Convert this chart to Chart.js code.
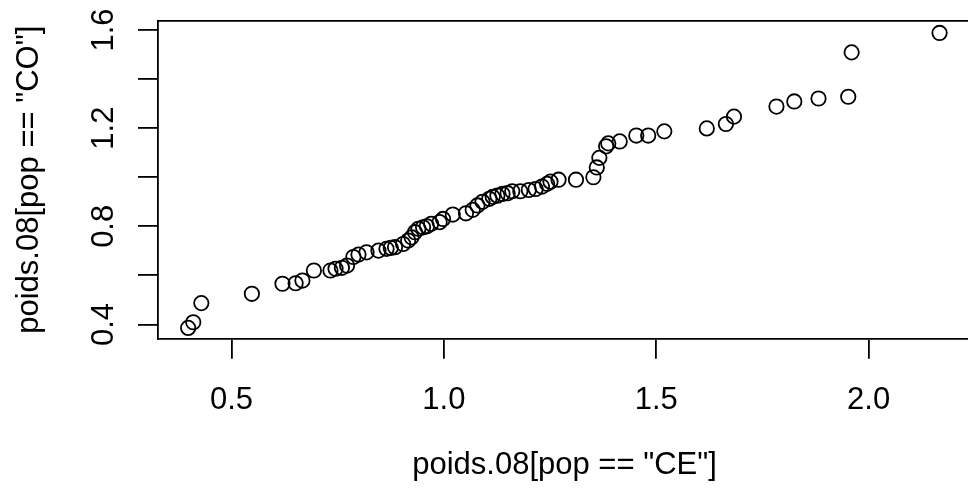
<!DOCTYPE html>
<html>
<head>
<meta charset="utf-8">
<script src="https://cdn.jsdelivr.net/npm/chart.js@4/dist/chart.umd.min.js"></script>
<style>
  html, body { margin: 0; padding: 0; background: #fff; overflow: hidden; }
  #wrap { width: 980px; height: 493px; }
</style>
</head>
<body>
<div id="wrap"><canvas id="c" width="980" height="493"></canvas></div>
<script>
// Sorted sample values (Q-Q style pairing)
const poidsCE = [0.398,0.41,0.429,0.548,0.62,0.651,0.667,0.694,0.733,0.745,0.76,0.772,0.787,0.799,0.818,0.846,0.865,0.875,0.885,0.904,0.916,0.924,0.932,0.94,0.951,0.96,0.97,0.99,0.998,1.021,1.052,1.068,1.079,1.091,1.107,1.115,1.126,1.138,1.15,1.161,1.18,1.2,1.216,1.231,1.243,1.251,1.27,1.311,1.352,1.36,1.366,1.382,1.387,1.414,1.453,1.481,1.519,1.619,1.664,1.683,1.783,1.825,1.882,1.952,1.96,2.167];
const poidsCO = [0.386,0.409,0.487,0.525,0.566,0.568,0.579,0.62,0.62,0.627,0.631,0.64,0.675,0.685,0.694,0.701,0.708,0.712,0.715,0.728,0.742,0.755,0.776,0.79,0.796,0.80,0.81,0.817,0.83,0.848,0.853,0.867,0.885,0.9,0.912,0.92,0.925,0.932,0.935,0.943,0.943,0.948,0.952,0.962,0.973,0.982,0.99,0.99,1.0,1.04,1.079,1.126,1.138,1.146,1.17,1.17,1.187,1.199,1.217,1.247,1.288,1.309,1.321,1.328,1.509,1.588];
const xTitle = 'poids.08[pop == "CE"]';
const yTitle = 'poids.08[pop == "CO"]';
const yLabelTicks = [0.4, 0.8, 1.2, 1.6];

const points = poidsCE.map((x, i) => ({x: x, y: poidsCO[i]}));
const FONT = {family: '"Liberation Sans", Arial, Helvetica, sans-serif', size: 31};
Chart.defaults.color = '#000';

new Chart(document.getElementById('c'), {
  type: 'scatter',
  data: { datasets: [{
    data: points,
    pointStyle: 'circle',
    pointRadius: 7.2,
    pointBorderWidth: 1.8,
    pointBackgroundColor: 'rgba(0,0,0,0)',
    pointBorderColor: '#000',
    showLine: false
  }]},
  options: {
    responsive: false,
    animation: false,
    devicePixelRatio: 1,
    layout: { padding: { left: 0, top: 20.7, right: 3, bottom: 0 } },
    plugins: { legend: { display: false }, tooltip: { enabled: false } },
    scales: {
      x: {
        type: 'linear', position: 'bottom', min: 0.327, max: 2.241,
        afterFit: s => { s.height = 154.3; s.paddingLeft = 0; s.paddingRight = 0; },
        border: { display: true, color: '#000', width: 1.8 },
        grid: { drawOnChartArea: false, drawTicks: true, tickLength: 20, color: '#000', lineWidth: 1.8 },
        ticks: { stepSize: 0.5, includeBounds: false, autoSkip: false, maxRotation: 0, padding: 23, font: FONT, color: '#000',
                 callback: v => v.toFixed(1) },
        title: { display: true, text: xTitle, font: FONT, color: '#000', padding: { top: 0, bottom: 9 } }
      },
      x2: {
        type: 'linear', position: 'top', min: 0.327, max: 2.241,
        afterFit: s => { s.height = 0; s.paddingLeft = 0; s.paddingRight = 0; },
        border: { display: true, color: '#000', width: 1.8 },
        grid: { display: false, drawTicks: false },
        ticks: { display: false }
      },
      y: {
        type: 'linear', position: 'left', min: 0.342, max: 1.638,
        afterFit: s => { s.width = 158; s.paddingTop = 0; s.paddingBottom = 0; },
        border: { display: true, color: '#000', width: 1.8 },
        grid: { drawOnChartArea: false, drawTicks: true, tickLength: 20, color: '#000', lineWidth: 1.8 },
        ticks: { stepSize: 0.2, includeBounds: false, autoSkip: false, minRotation: 90, maxRotation: 90,
                 crossAlign: 'center', padding: 12, font: FONT, color: '#000',
                 callback: v => yLabelTicks.some(t => Math.abs(t - v) < 1e-6) ? v.toFixed(1) : '' },
        title: { display: true, text: yTitle, font: FONT, color: '#000', padding: { top: 11, bottom: 0 } }
      }
    }
  }
});
</script>
</body>
</html>
